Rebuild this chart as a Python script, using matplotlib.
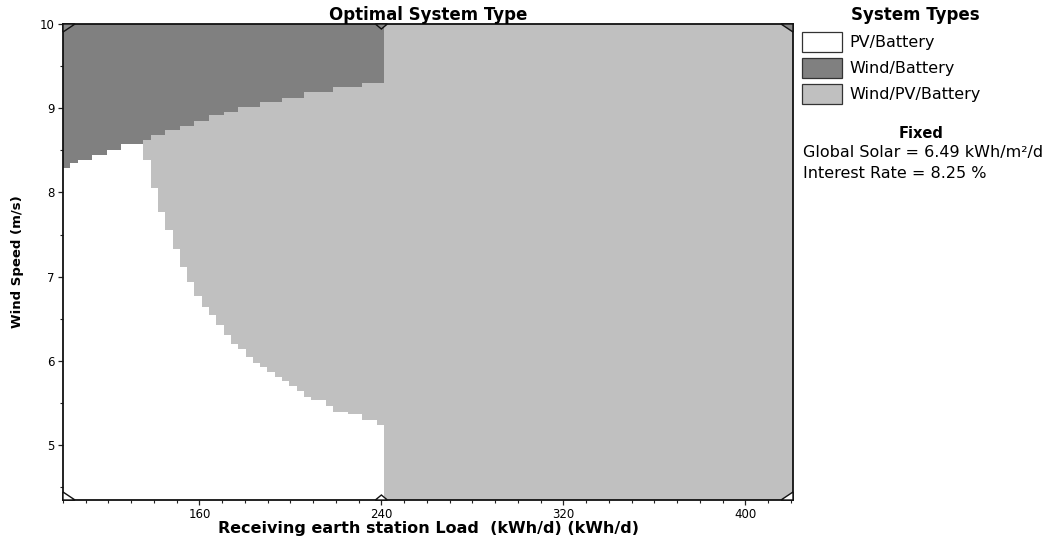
import numpy as np
import matplotlib.pyplot as plt
import matplotlib.transforms as mtransforms
from matplotlib.colors import ListedColormap
from matplotlib.patches import Rectangle, Polygon
from matplotlib.ticker import MultipleLocator

plt.rcParams['font.family'] = 'DejaVu Sans'

# sensitivity ranges of the two variables
load_range = [100.0, 421.0]      # kWh/d
speed_range = [4.35, 10.0]       # m/s

# Wind/Battery is optimal above these speeds (step edges along the load axis)
wb_load = [100.0, 103.2, 106.4, 112.8, 119.3, 125.7, 135.3, 138.5, 144.9, 151.4,
           157.8, 164.2, 170.6, 177.0, 186.7, 196.3, 205.9, 218.8, 231.6, 241.2]
wb_speed = [8.29, 8.35, 8.39, 8.45, 8.51, 8.57, 8.62, 8.68, 8.74, 8.79,
            8.85, 8.92, 8.95, 9.01, 9.08, 9.12, 9.19, 9.25, 9.30]

# PV/Battery is optimal below these speeds; left of the first edge it runs
# straight up to the Wind/Battery region
pv_load = [135.3, 138.5, 141.7, 144.9, 148.2, 151.4, 154.6, 157.8, 161.0, 164.2,
           167.4, 170.6, 173.8, 177.0, 180.3, 183.5, 186.7, 189.9, 193.1, 196.3,
           199.5, 202.7, 205.9, 209.1, 215.6, 218.8, 225.2, 231.6, 238.0, 241.2]
pv_speed = [8.39, 8.05, 7.77, 7.55, 7.33, 7.12, 6.94, 6.77, 6.64, 6.54,
            6.43, 6.31, 6.20, 6.14, 6.05, 5.98, 5.93, 5.87, 5.81, 5.76,
            5.70, 5.64, 5.57, 5.54, 5.46, 5.40, 5.37, 5.30, 5.24]

system_types = ['PV/Battery', 'Wind/Battery', 'Wind/PV/Battery']
type_colors = ['#ffffff', '#808080', '#c0c0c0']

fixed_lines = ['Global Solar = 6.49 kWh/m\u00b2/d', 'Interest Rate = 8.25 %']


def step_lookup(edges, values, x):
    edges = np.asarray(edges)
    values = np.asarray(values)
    i = np.searchsorted(edges, x, side='right') - 1
    ok = (i >= 0) & (i < len(values))
    return np.where(ok, values[np.clip(i, 0, len(values) - 1)], np.nan)


# cell grid from all the step edges
x_edges = np.unique(np.concatenate([wb_load, pv_load, load_range]))
y_edges = np.unique(np.concatenate([wb_speed, pv_speed, speed_range]))
xc = (x_edges[:-1] + x_edges[1:]) / 2
yc = (y_edges[:-1] + y_edges[1:]) / 2
X, Y = np.meshgrid(xc, yc)

wind_lo = step_lookup(wb_load, wb_speed, X)
pv_hi = step_lookup(pv_load, pv_speed, X)
pv_hi = np.where(np.isnan(pv_hi), wind_lo, pv_hi)

cat = np.full(X.shape, 2)
cat[Y > wind_lo] = 1
cat[Y < pv_hi] = 0

fig = plt.figure(figsize=(10.46, 5.41), dpi=100)
ax = fig.add_axes([63 / 1046, 1 - 500 / 541, 730 / 1046, 476 / 541])

ax.pcolormesh(x_edges, y_edges, cat, cmap=ListedColormap(type_colors),
              vmin=-0.5, vmax=2.5, shading='flat', antialiased=False,
              edgecolors='none')

ax.set_xlim(load_range)
ax.set_ylim(speed_range)
ax.xaxis.set_major_locator(MultipleLocator(80))
ax.xaxis.set_minor_locator(MultipleLocator(10))
ax.yaxis.set_major_locator(MultipleLocator(1))
ax.yaxis.set_minor_locator(MultipleLocator(0.5))
ax.tick_params(which='major', direction='out', length=3.5, width=0.9,
               labelsize=8.5, pad=2.5, color='#222222')
ax.tick_params(which='minor', direction='out', length=2.2, width=0.8,
               color='#222222')
for s in ax.spines.values():
    s.set_linewidth(1.3)
    s.set_color('#111111')

ax.set_title('Optimal System Type', fontsize=12, fontweight='bold', pad=3)
ax.set_xlabel('Receiving earth station Load  (kWh/d) (kWh/d)', fontsize=11.5,
              fontweight='bold', labelpad=0)
ax.set_ylabel('Wind Speed (m/s)', fontsize=9.5, fontweight='bold')
ax.yaxis.set_label_coords(-39 / 730, 0.5)

# sensitivity corner markers, shapes given in pixels around each corner
x0, x1 = load_range
y0, y1 = speed_range
marks = [
    (x0, y1, [(0, 0), (12, 0), (0, -8)], '#8a8a8a'),
    (240, y1, [(-6, 0), (6, 0), (0, -5)], '#8a8a8a'),
    (x1, y1, [(0, 0), (-12, 0), (0, -8)], '#8a8a8a'),
    (x0, y0, [(0, 0), (12, 0), (0, 8)], '#ffffff'),
    (240, y0, [(-6, 0), (6, 0), (0, 5)], '#ffffff'),
    (x1, y0, [(0, 0), (-12, 0), (0, 8)], '#ffffff'),
]
for mx, my, verts, fc in marks:
    tr = mtransforms.Affine2D() + mtransforms.ScaledTranslation(mx, my, ax.transData)
    ax.add_patch(Polygon(verts, closed=True, transform=tr, facecolor=fc,
                         edgecolor='#111111', linewidth=1.0, clip_on=False,
                         zorder=5))

# legend panel on the right
W, H = 1046, 541
fig.text(915 / W, 1 - 15 / H, 'System Types', ha='center', va='center',
         fontsize=12, fontweight='bold')
for k, (name, col) in enumerate(zip(system_types, type_colors)):
    top = 32 + k * 26
    fig.patches.append(Rectangle((802 / W, 1 - (top + 20) / H), 40 / W, 20 / H,
                                 transform=fig.transFigure, facecolor=col,
                                 edgecolor='#333333', linewidth=0.9))
    fig.text(849 / W, 1 - (top + 10) / H, name, ha='left', va='center',
             fontsize=11.5)

fig.text(921 / W, 1 - 133 / H, 'Fixed', ha='center', va='center',
         fontsize=10.5, fontweight='bold')
for k, line in enumerate(fixed_lines):
    fig.text(803 / W, 1 - (152 + k * 21) / H, line, ha='left', va='center',
             fontsize=11.5)

fig.savefig('out.png', dpi=100)
